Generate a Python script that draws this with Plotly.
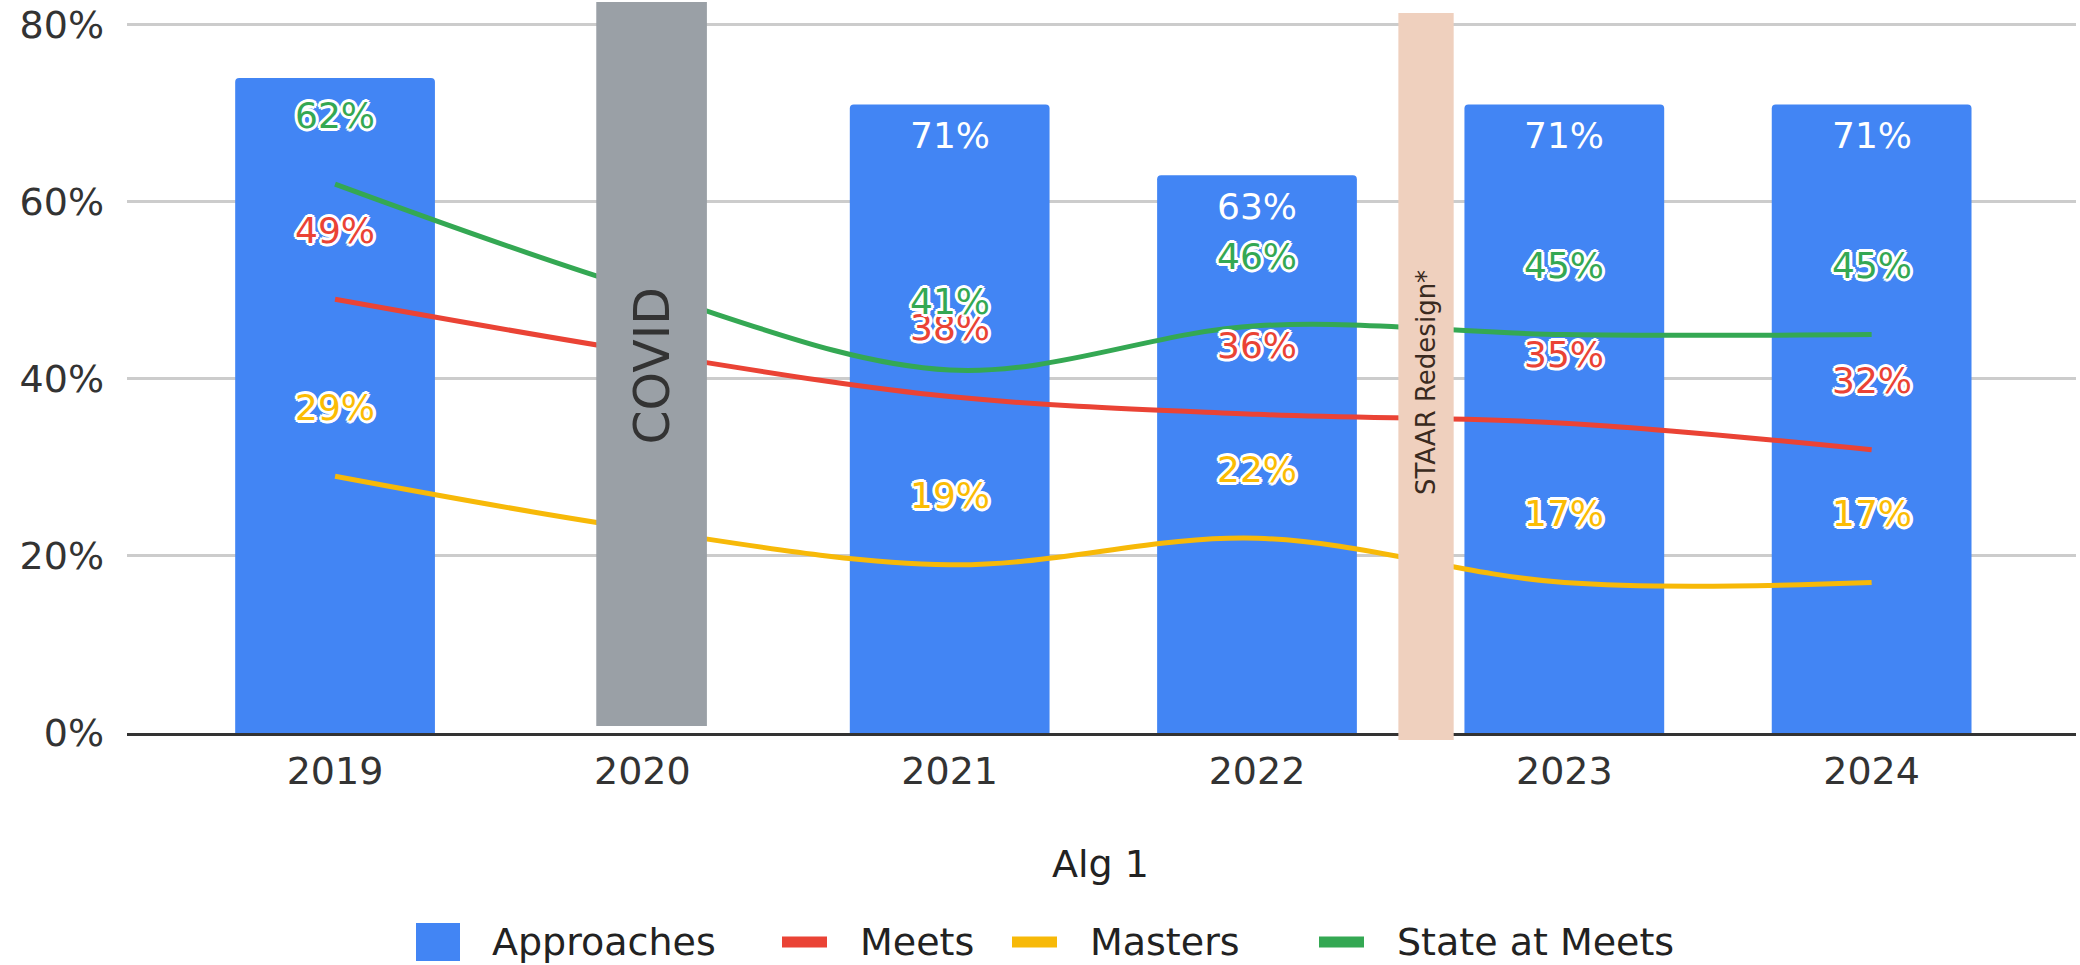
import plotly.graph_objects as go

# ---------------- data ----------------
years = ["2019", "2020", "2021", "2022", "2023", "2024"]
approaches = [74, None, 71, 63, 71, 71]
meets = [49, 43, 38, 36, 35, 32]
masters = [29, 23, 19, 22, 17, 17]
state_at_meets = [62, 50, 41, 46, 45, 45]

series_names = ["Approaches", "Meets", "Masters", "State at Meets"]
series_colors = ["#4285F4", "#EA4335", "#FBBC04", "#34A853"]

y_tick_vals = [0, 20, 40, 60, 80]
y_tick_text = ["0%", "20%", "40%", "60%", "80%"]
x_title = "Alg 1"

# labels visible in the reference (2020 hidden by the COVID box, 2019 bar label covered)
approach_label_years = ["2021", "2022", "2023", "2024"]
line_label_years = ["2019", "2021", "2022", "2023", "2024"]

covid_text = "COVID"
staar_text = "STAAR Redesign*"

# ---------------- layout geometry ----------------
W, H = 2080, 965
M_L, M_R, M_T, M_B = 127, 4, 23, 232
FONT = "DejaVu Sans"


def px_x(px):
    return (px - M_L) / (W - M_L - M_R)


def px_y(py):
    return (H - M_B - py) / (H - M_T - M_B)


fig = go.Figure()

fig.add_trace(go.Bar(
    x=years, y=approaches, name=series_names[0],
    marker=dict(color=series_colors[0], line=dict(width=0)),
    width=0.65, showlegend=False, hoverinfo="skip",
))

line_series = [
    (series_names[1], meets, series_colors[1]),
    (series_names[2], masters, "#F7B908"),
    (series_names[3], state_at_meets, series_colors[3]),
]
for name, vals, col in line_series:
    fig.add_trace(go.Scatter(
        x=years, y=vals, name=name, mode="lines",
        line=dict(color=col, width=5, shape="spline", smoothing=1),
        showlegend=False, hoverinfo="skip",
    ))

halo = ", ".join(
    f"{dx}px {dy}px 0 #fff" for dx, dy in
    [(-2, -2), (2, -2), (-2, 2), (2, 2), (0, 3), (3, 0), (0, -3), (-3, 0)]
)

annotations = []
# bar labels (white, inside top)
for i, (yr, v) in enumerate(zip(years, approaches)):
    if yr in approach_label_years and v is not None:
        annotations.append(dict(
            x=i, y=v, xref="x", yref="y", text=f"{v}%", showarrow=False,
            yshift=-31, yanchor="middle", xanchor="center",
            font=dict(family=FONT, size=36, color="#ffffff"),
        ))
# line labels (colored with white halo)
label_cols = [series_colors[1], series_colors[2], series_colors[3]]
for (name, vals, _), col in zip(line_series, label_cols):
    for i, (yr, v) in enumerate(zip(years, vals)):
        if yr in line_label_years:
            annotations.append(dict(
                x=i, y=v, xref="x", yref="y", text=f"{v}%", showarrow=False,
                yshift=69, yanchor="middle", xanchor="center",
                font=dict(family=FONT, size=36, color=col, shadow=halo),
            ))

# COVID and STAAR boxes
covid_idx = years.index("2020") + 0.03
staar_idx = years.index("2023") - 0.45
shapes = [
    dict(type="rect", xref="x", yref="paper", layer="above",
         x0=covid_idx - 0.18, x1=covid_idx + 0.18, y0=px_y(726), y1=px_y(2),
         fillcolor="#9AA0A6", line=dict(width=0)),
    dict(type="rect", xref="x", yref="paper", layer="above",
         x0=staar_idx - 0.09, x1=staar_idx + 0.09, y0=px_y(740), y1=px_y(13),
         fillcolor="#EFD0BE", line=dict(width=0)),
]
annotations.append(dict(
    x=covid_idx, y=px_y(366), xref="x", yref="paper", text=covid_text,
    textangle=-90, showarrow=False, font=dict(family=FONT, size=49, color="#333333"),
))
annotations.append(dict(
    x=staar_idx, y=px_y(383), xref="x", yref="paper", text=staar_text,
    textangle=-90, showarrow=False, font=dict(family=FONT, size=26, color="#3a2a20"),
))

# axis title
annotations.append(dict(
    x=px_x(1100), y=px_y(864), xref="paper", yref="paper", text=x_title,
    showarrow=False, yanchor="middle", xanchor="center",
    font=dict(family=FONT, size=38, color="#222222"),
))

# custom legend
legend_text_x = [490, 858, 1088, 1395]
legend_cols = [series_colors[0], series_colors[1], "#F7B908", series_colors[3]]
legend_cy = 942
for i, (name, col) in enumerate(zip(series_names, legend_cols)):
    tx = legend_text_x[i]
    if i == 0:
        shapes.append(dict(type="rect", xref="paper", yref="paper", layer="above",
                           x0=px_x(tx - 74), x1=px_x(tx - 30),
                           y0=px_y(legend_cy + 19), y1=px_y(legend_cy - 19),
                           fillcolor=col, line=dict(width=0)))
    else:
        shapes.append(dict(type="rect", xref="paper", yref="paper", layer="above",
                           x0=px_x(tx - 76), x1=px_x(tx - 31),
                           y0=px_y(legend_cy + 5.5), y1=px_y(legend_cy - 5.5),
                           fillcolor=col, line=dict(width=0)))
    annotations.append(dict(
        x=px_x(tx), y=px_y(legend_cy), xref="paper", yref="paper", text=name,
        showarrow=False, xanchor="left", yanchor="middle",
        font=dict(family=FONT, size=38, color="#222222"),
    ))

fig.update_layout(
    width=W, height=H,
    margin=dict(l=M_L, r=M_R, t=M_T, b=M_B, pad=0),
    paper_bgcolor="#ffffff", plot_bgcolor="#ffffff",
    font=dict(family=FONT, size=38, color="#333333"),
    barcornerradius=4,
    shapes=shapes, annotations=annotations,
    showlegend=False,
    xaxis=dict(
        type="category", range=[-0.677, 5.665],
        showgrid=False, showline=True, linecolor="#333333", linewidth=3,
        ticks="", ticklabelstandoff=2,
        tickfont=dict(family=FONT, size=38, color="#333333"),
        fixedrange=True,
    ),
    yaxis=dict(
        range=[0, 80.2], tickvals=y_tick_vals, ticktext=y_tick_text,
        showgrid=True, gridcolor="#CCCCCC", gridwidth=2.5,
        zeroline=False, showline=False, ticks="", ticklabelstandoff=22,
        tickfont=dict(family=FONT, size=38, color="#333333"),
        fixedrange=True,
    ),
)

fig.write_html("out.html", config={"displayModeBar": False},
               post_script="document.body.style.margin='0';")
